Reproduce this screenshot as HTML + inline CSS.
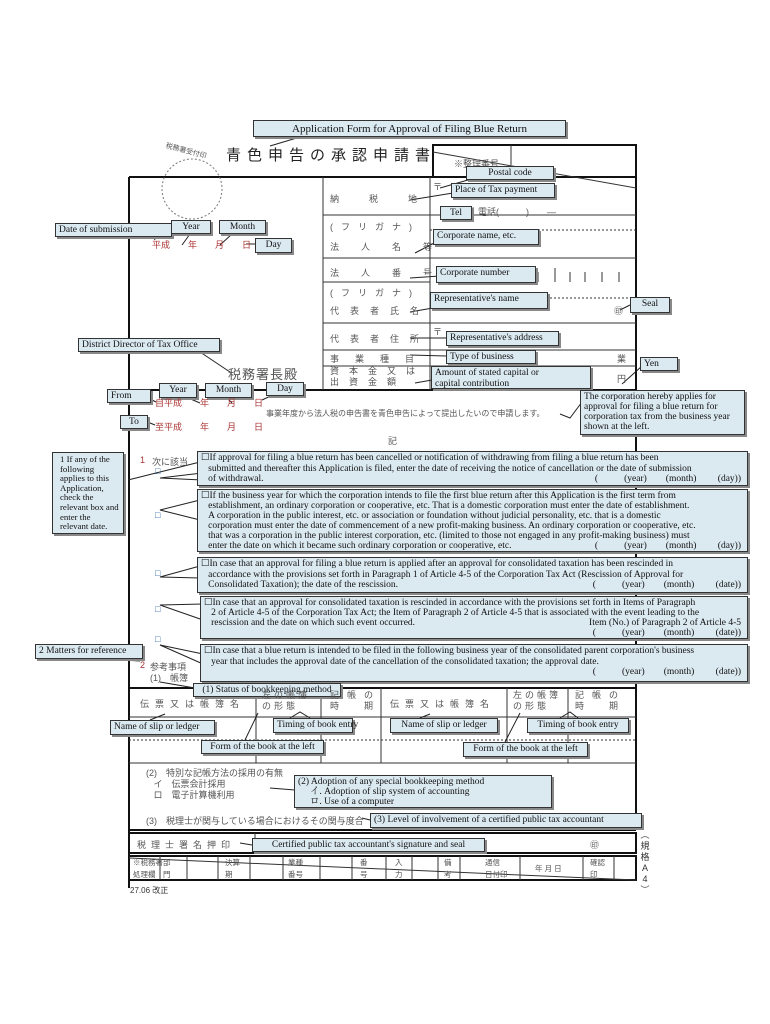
<!DOCTYPE html>
<html><head><meta charset="utf-8"><style>
body{margin:0;width:770px;height:1024px;background:#fff;position:relative;overflow:hidden;font-family:"Liberation Serif","Noto Serif CJK SC",serif;}
.a{position:absolute;}
.c{position:absolute;background:#dbe9f1;border:1px solid #333;box-shadow:2px 2px 0 #888;font-size:9.5px;line-height:10.5px;padding:1px 3px;box-sizing:border-box;color:#111;white-space:nowrap;}
.j{position:absolute;font-family:"Liberation Sans","Noto Sans CJK JP",sans-serif;color:#555;font-size:9px;white-space:nowrap;}
.r{color:#a33;}
.b{position:absolute;background:#111;}
svg{position:absolute;left:0;top:0;}
</style></head><body>
<svg width="770" height="1024">
<g stroke="#111" fill="none" stroke-width="2">
<rect x="433" y="145" width="203" height="32"/>
<line x1="129" y1="177" x2="636" y2="177"/>
<line x1="129" y1="177" x2="129" y2="888"/>
<line x1="636" y1="177" x2="636" y2="830"/>
<line x1="129" y1="390" x2="636" y2="390"/>
<line x1="129" y1="688" x2="636" y2="688"/>
<line x1="129" y1="830" x2="636" y2="830"/>
<rect x="129" y="833" width="507" height="20"/>
<rect x="129" y="856" width="507" height="24"/>
</g>
<g stroke="#333" stroke-width="1" fill="none">
<line x1="433" y1="152" x2="636" y2="188"/>
<line x1="511" y1="145" x2="511" y2="165"/>
<line x1="323" y1="177" x2="323" y2="390"/>
<line x1="430" y1="177" x2="430" y2="390"/>
<line x1="323" y1="215" x2="636" y2="215"/>
<line x1="323" y1="258" x2="636" y2="258"/>
<line x1="323" y1="323" x2="636" y2="323"/>
<line x1="323" y1="350" x2="636" y2="350"/>
<line x1="323" y1="366" x2="636" y2="366"/>
<line x1="430" y1="230" x2="636" y2="230" stroke-dasharray="2 2"/>
<line x1="430" y1="298" x2="636" y2="298" stroke-dasharray="2 2"/>
<line x1="323" y1="282" x2="430" y2="282"/>
<line x1="256" y1="688" x2="256" y2="763"/>
<line x1="321" y1="688" x2="321" y2="763"/>
<line x1="381" y1="688" x2="381" y2="763"/>
<line x1="507" y1="688" x2="507" y2="763"/>
<line x1="568" y1="688" x2="568" y2="763"/>
<line x1="129" y1="717" x2="636" y2="717"/>
<line x1="129" y1="740" x2="636" y2="740" stroke-dasharray="2 2"/>
<line x1="129" y1="763" x2="636" y2="763"/>
<line x1="255" y1="833" x2="255" y2="853"/>
<line x1="129" y1="858" x2="636" y2="880"/>
<line x1="160" y1="856" x2="160" y2="880"/><line x1="187" y1="856" x2="187" y2="880"/>
<line x1="218" y1="856" x2="218" y2="880"/><line x1="250" y1="856" x2="250" y2="880"/>
<line x1="283" y1="856" x2="283" y2="880"/><line x1="320" y1="856" x2="320" y2="880"/>
<line x1="352" y1="856" x2="352" y2="880"/><line x1="386" y1="856" x2="386" y2="880"/>
<line x1="412" y1="856" x2="412" y2="880"/><line x1="438" y1="856" x2="438" y2="880"/>
<line x1="460" y1="856" x2="460" y2="880"/><line x1="520" y1="856" x2="520" y2="880"/>
<line x1="583" y1="856" x2="583" y2="880"/><line x1="614" y1="856" x2="614" y2="880"/>
<circle cx="192" cy="189" r="30" stroke-dasharray="2 2" stroke="#777"/>
<line x1="538" y1="272" x2="538" y2="282"/><line x1="555" y1="268" x2="555" y2="282"/><line x1="570" y1="272" x2="570" y2="282"/><line x1="585" y1="272" x2="585" y2="282"/><line x1="602" y1="272" x2="602" y2="282"/><line x1="619" y1="272" x2="619" y2="282"/>
</g>
<g stroke="#222" stroke-width="1" fill="none">
<polyline points="300,137 270,146"/>
<polyline points="468,180 440,188"/><polyline points="453,193 410,200"/>
<polyline points="440,214 474,208"/>
<polyline points="440,240 415,253"/>
<polyline points="440,276 410,278"/>
<polyline points="450,305 410,312"/>
<polyline points="630,305 620,310"/>
<polyline points="446,338 410,338"/><polyline points="446,356 410,355"/>
<polyline points="432,380 415,383"/><polyline points="642,366 622,384"/>
<polyline points="582,402 570,418 560,414"/>
<polyline points="150,230 155,240"/><polyline points="190,234 182,245"/><polyline points="232,234 220,245"/><polyline points="258,244 246,244"/>
<polyline points="200,352 230,372"/>
<polyline points="148,398 156,402"/><polyline points="186,397 200,403"/><polyline points="226,397 232,403"/><polyline points="275,394 262,400"/><polyline points="145,421 155,425"/>
<polyline points="128,480 200,462"/>
<polyline points="202,473 160,478 202,480"/><polyline points="200,500 160,510 200,520"/><polyline points="200,566 160,577 200,578"/><polyline points="203,604 160,605 203,620"/><polyline points="203,654 160,645 203,664"/>
<polyline points="105,659 140,661"/>
<polyline points="195,688 160,682"/>
<polyline points="150,720 165,714"/><polyline points="245,740 258,713"/><polyline points="290,718 300,712 310,718"/><polyline points="420,718 430,714"/><polyline points="505,742 520,713"/><polyline points="560,718 570,712 578,718"/>
<polyline points="295,790 270,788"/><polyline points="370,820 362,818"/><polyline points="252,845 240,843"/>
</g>
</svg>

<div class="c" style="left:253px;top:120px;width:313px;height:17px;font-size:11px;line-height:14px;text-align:center">Application Form for Approval of Filing Blue Return</div>
<div class="a" style="left:226px;top:144px;font-family:'Liberation Sans','Noto Sans CJK JP',sans-serif;font-size:15px;letter-spacing:6px;color:#222">青色申告の承認申請書</div>
<div class="j" style="left:165px;top:146px;font-size:7px;transform:rotate(15deg)">税務署受付印</div>
<div class="j" style="left:454px;top:157px">※整理番号</div>
<div class="c" style="left:466px;top:166px;width:88px;height:14px;text-align:center">Postal code</div>
<div class="j" style="left:433px;top:180px">〒</div>
<div class="c" style="left:451px;top:183px;width:104px;height:15px">Place of Tax payment</div>
<div class="j" style="left:330px;top:192px;letter-spacing:30px">納税地</div>
<div class="c" style="left:440px;top:206px;width:32px;height:14px;text-align:center">Tel</div>
<div class="j" style="left:478px;top:205px">電話(　　　)　　—</div>
<div class="j" style="left:330px;top:220px;letter-spacing:8px">(フリガナ)</div>
<div class="c" style="left:433px;top:229px;width:106px;height:16px">Corporate name, etc.</div>
<div class="j" style="left:330px;top:240px;letter-spacing:22px">法人名等</div>
<div class="j" style="left:330px;top:266px;letter-spacing:22px">法人番号</div>
<div class="c" style="left:436px;top:266px;width:100px;height:17px">Corporate number</div>
<div class="j" style="left:330px;top:286px;letter-spacing:8px">(フリガナ)</div>
<div class="c" style="left:430px;top:292px;width:118px;height:17px">Representative's name</div>
<div class="j" style="left:330px;top:304px;letter-spacing:11px">代表者氏名</div>
<div class="j" style="left:614px;top:304px">㊞</div>
<div class="c" style="left:630px;top:297px;width:40px;height:16px;text-align:center">Seal</div>
<div class="j" style="left:330px;top:332px;letter-spacing:11px">代表者住所</div>
<div class="j" style="left:433px;top:325px">〒</div>
<div class="c" style="left:446px;top:331px;width:113px;height:15px">Representative's address</div>
<div class="j" style="left:330px;top:352px;letter-spacing:16px">事業種目</div>
<div class="c" style="left:446px;top:350px;width:90px;height:14px">Type of business</div>
<div class="j" style="left:617px;top:352px">業</div>
<div class="c" style="left:640px;top:357px;width:38px;height:14px">Yen</div>
<div class="j" style="left:330px;top:366px;letter-spacing:10px;line-height:11px">資本金又は<br>出資金額</div>
<div class="j" style="left:617px;top:372px">円</div>
<div class="c" style="left:431px;top:366px;width:160px;height:23px">Amount of stated capital or<br>capital contribution</div>
<div class="c" style="left:580px;top:390px;width:165px;height:45px;white-space:normal;line-height:10px">The corporation hereby applies for approval for filing a blue return for corporation tax from the business year shown at the left.</div>

<div class="c" style="left:55px;top:223px;width:117px;height:14px">Date of submission</div>
<div class="c" style="left:171px;top:220px;width:40px;height:14px;text-align:center">Year</div>
<div class="c" style="left:219px;top:220px;width:47px;height:14px;text-align:center">Month</div>
<div class="c" style="left:255px;top:238px;width:37px;height:15px;text-align:center">Day</div>
<div class="j r" style="left:152px;top:238px">平成　　年　　月　　日</div>
<div class="c" style="left:78px;top:338px;width:142px;height:14px">District Director of Tax Office</div>
<div class="j" style="left:228px;top:364px;font-size:13px;letter-spacing:1px">税務署長殿</div>
<div class="c" style="left:107px;top:389px;width:44px;height:14px">From</div>
<div class="c" style="left:159px;top:383px;width:38px;height:15px;text-align:center">Year</div>
<div class="c" style="left:205px;top:383px;width:47px;height:15px;text-align:center">Month</div>
<div class="c" style="left:266px;top:382px;width:38px;height:14px;text-align:center">Day</div>
<div class="j r" style="left:155px;top:396px">自平成　　年　　月　　日</div>
<div class="c" style="left:120px;top:415px;width:28px;height:14px;text-align:center">To</div>
<div class="j r" style="left:155px;top:420px">至平成　　年　　月　　日</div>
<div class="j" style="left:266px;top:408px;font-size:8px">事業年度から法人税の申告書を青色申告によって提出したいので申請します。</div>
<div class="j" style="left:388px;top:434px">記</div>

<div class="j r" style="left:140px;top:455px">1</div>
<div class="j" style="left:152px;top:455px">次に該当</div>
<div class="j" style="left:155px;top:466px;color:#36a">□</div>
<div class="j" style="left:155px;top:510px;color:#36a">□</div>
<div class="j" style="left:155px;top:568px;color:#36a">□</div>
<div class="j" style="left:155px;top:604px;color:#36a">□</div>
<div class="j" style="left:155px;top:634px;color:#36a">□</div>
<div class="j r" style="left:140px;top:660px">2</div>
<div class="j" style="left:150px;top:660px">参考事項</div>
<div class="j" style="left:150px;top:671px">(1)　帳簿</div>

<div class="c" style="left:52px;top:452px;width:72px;height:82px;white-space:normal;font-size:8.8px;line-height:9.6px;padding:2px 2px 0 7px">1 If any of the following applies to this Application, check the relevant box and enter the relevant date.</div>
<div class="c" style="left:197px;top:451px;width:551px;height:35px;line-height:10.5px">☐If approval for filing a blue return has been cancelled or notification of withdrawing from filing a blue return has been<br>&nbsp;&nbsp;&nbsp;submitted and thereafter this Application is filed, enter the date of receiving the notice of cancellation or the date of submission<br>&nbsp;&nbsp;&nbsp;of withdrawal.<span style="position:absolute;right:6px">(&nbsp;&nbsp;&nbsp;&nbsp;&nbsp;&nbsp;&nbsp;&nbsp;&nbsp;&nbsp;&nbsp;(year)&nbsp;&nbsp;&nbsp;&nbsp;&nbsp;&nbsp;&nbsp;&nbsp;(month)&nbsp;&nbsp;&nbsp;&nbsp;&nbsp;&nbsp;&nbsp;&nbsp;&nbsp;(day))</span></div>
<div class="c" style="left:197px;top:489px;width:551px;height:63px;line-height:10px">☐If the business year for which the corporation intends to file the first blue return after this Application is the first term from<br>&nbsp;&nbsp;&nbsp;establishment, an ordinary corporation or cooperative, etc. That is a domestic corporation must enter the date of establishment.<br>&nbsp;&nbsp;&nbsp;A corporation in the public interest, etc. or association or foundation without judicial personality, etc. that is a domestic<br>&nbsp;&nbsp;&nbsp;corporation must enter the date of commencement of a new profit-making business. An ordinary corporation or cooperative, etc.<br>&nbsp;&nbsp;&nbsp;that was a corporation in the public interest corporation, etc. (limited to those not engaged in any profit-making business) must<br>&nbsp;&nbsp;&nbsp;enter the date on which it became such ordinary corporation or cooperative, etc.<span style="position:absolute;right:6px">(&nbsp;&nbsp;&nbsp;&nbsp;&nbsp;&nbsp;&nbsp;&nbsp;&nbsp;&nbsp;&nbsp;(year)&nbsp;&nbsp;&nbsp;&nbsp;&nbsp;&nbsp;&nbsp;&nbsp;(month)&nbsp;&nbsp;&nbsp;&nbsp;&nbsp;&nbsp;&nbsp;&nbsp;&nbsp;(day))</span></div>
<div class="c" style="left:197px;top:557px;width:551px;height:36px;line-height:10.5px">☐In case that an approval for filing a blue return is applied after an approval for consolidated taxation has been rescinded in<br>&nbsp;&nbsp;&nbsp;accordance with the provisions set forth in Paragraph 1 of Article 4-5 of the Corporation Tax Act (Rescission of Approval for<br>&nbsp;&nbsp;&nbsp;Consolidated Taxation); the date of the rescission.<span style="position:absolute;right:6px">(&nbsp;&nbsp;&nbsp;&nbsp;&nbsp;&nbsp;&nbsp;&nbsp;&nbsp;&nbsp;&nbsp;(year)&nbsp;&nbsp;&nbsp;&nbsp;&nbsp;&nbsp;&nbsp;&nbsp;(month)&nbsp;&nbsp;&nbsp;&nbsp;&nbsp;&nbsp;&nbsp;&nbsp;&nbsp;(date))</span></div>
<div class="c" style="left:200px;top:596px;width:548px;height:43px;line-height:10px">☐In case that an approval for consolidated taxation is rescinded in accordance with the provisions set forth in Items of Paragraph<br>&nbsp;&nbsp;&nbsp;2 of Article 4-5 of the Corporation Tax Act; the Item of Paragraph 2 of Article 4-5 that is associated with the event leading to the<br>&nbsp;&nbsp;&nbsp;rescission and the date on which such event occurred.<span style="position:absolute;right:6px">Item (No.) of Paragraph 2 of Article 4-5</span><br><span style="position:absolute;right:6px">(&nbsp;&nbsp;&nbsp;&nbsp;&nbsp;&nbsp;&nbsp;&nbsp;&nbsp;&nbsp;&nbsp;(year)&nbsp;&nbsp;&nbsp;&nbsp;&nbsp;&nbsp;&nbsp;&nbsp;(month)&nbsp;&nbsp;&nbsp;&nbsp;&nbsp;&nbsp;&nbsp;&nbsp;&nbsp;(date))</span></div>
<div class="c" style="left:200px;top:644px;width:548px;height:38px;line-height:10.5px">☐In case that a blue return is intended to be filed in the following business year of the consolidated parent corporation's business<br>&nbsp;&nbsp;&nbsp;year that includes the approval date of the cancellation of the consolidated taxation; the approval date.<br><span style="position:absolute;right:6px">(&nbsp;&nbsp;&nbsp;&nbsp;&nbsp;&nbsp;&nbsp;&nbsp;&nbsp;&nbsp;&nbsp;(year)&nbsp;&nbsp;&nbsp;&nbsp;&nbsp;&nbsp;&nbsp;&nbsp;(month)&nbsp;&nbsp;&nbsp;&nbsp;&nbsp;&nbsp;&nbsp;&nbsp;&nbsp;(date))</span></div>
<div class="c" style="left:35px;top:644px;width:108px;height:15px">2 Matters for reference</div>
<div class="c" style="left:193px;top:683px;width:148px;height:14px;text-align:center">(1) Status of bookkeeping method</div>

<div class="j" style="left:140px;top:697px;letter-spacing:6px">伝票又は帳簿名</div>
<div class="j" style="left:262px;top:690px;letter-spacing:3px;line-height:11px">左の帳簿<br>の形態</div>
<div class="j" style="left:330px;top:690px;letter-spacing:8px;line-height:11px">記帳の<br>時　期</div>
<div class="j" style="left:390px;top:697px;letter-spacing:6px">伝票又は帳簿名</div>
<div class="j" style="left:513px;top:690px;letter-spacing:3px;line-height:11px">左の帳簿<br>の形態</div>
<div class="j" style="left:575px;top:690px;letter-spacing:8px;line-height:11px">記帳の<br>時　期</div>
<div class="c" style="left:110px;top:720px;width:105px;height:15px">Name of slip or ledger</div>
<div class="c" style="left:273px;top:718px;width:80px;height:15px;text-align:center">Timing of book entry</div>
<div class="c" style="left:390px;top:718px;width:108px;height:15px;text-align:center">Name of slip or ledger</div>
<div class="c" style="left:527px;top:718px;width:102px;height:15px;text-align:center">Timing of book entry</div>
<div class="c" style="left:201px;top:740px;width:123px;height:14px;text-align:center">Form of the book at the left</div>
<div class="c" style="left:463px;top:742px;width:125px;height:15px;text-align:center">Form of the book at the left</div>

<div class="j" style="left:146px;top:768px;line-height:11px">(2)　特別な記帳方法の採用の有無<br>&nbsp;&nbsp;&nbsp;イ　伝票会計採用<br>&nbsp;&nbsp;&nbsp;ロ　電子計算機利用</div>
<div class="c" style="left:294px;top:775px;width:258px;height:33px;line-height:10px">(2) Adoption of any special bookkeeping method<br>&nbsp;&nbsp;&nbsp;&nbsp;&nbsp;イ. Adoption of slip system of accounting<br>&nbsp;&nbsp;&nbsp;&nbsp;&nbsp;ロ. Use of a computer</div>
<div class="j" style="left:146px;top:814px">(3)　税理士が関与している場合におけるその関与度合</div>
<div class="c" style="left:370px;top:813px;width:272px;height:15px">(3) Level of involvement of a certified public tax accountant</div>
<div class="j" style="left:137px;top:838px;letter-spacing:5px">税理士署名押印</div>
<div class="c" style="left:252px;top:838px;width:233px;height:14px;text-align:center">Certified public tax accountant's signature and seal</div>
<div class="j" style="left:590px;top:838px">㊞</div>
<div class="j" style="left:133px;top:857px;font-size:7.5px;line-height:12px">※税務署<br>処理欄</div>
<div class="j" style="left:163px;top:857px;font-size:7.5px;line-height:12px">部<br>門</div>
<div class="j" style="left:225px;top:857px;font-size:7.5px;line-height:12px">決算<br>期</div>
<div class="j" style="left:288px;top:857px;font-size:7.5px;line-height:12px">業種<br>番号</div>
<div class="j" style="left:360px;top:857px;font-size:7.5px;line-height:12px">番<br>号</div>
<div class="j" style="left:395px;top:857px;font-size:7.5px;line-height:12px">入<br>力</div>
<div class="j" style="left:444px;top:857px;font-size:7.5px;line-height:12px">備<br>考</div>
<div class="j" style="left:485px;top:857px;font-size:7.5px;line-height:12px">通信<br>日付印</div>
<div class="j" style="left:535px;top:863px;font-size:7.5px">年 月 日</div>
<div class="j" style="left:590px;top:857px;font-size:7.5px;line-height:12px">確認<br>印</div>
<div class="j" style="left:640px;top:830px;width:10px;font-size:9px;line-height:11px;white-space:normal;color:#333;text-align:center">︵<br>規<br>格<br>A<br>4<br>︶</div>
<div class="j" style="left:130px;top:885px;color:#333;font-size:8px">27.06 改正</div>
</body></html>
